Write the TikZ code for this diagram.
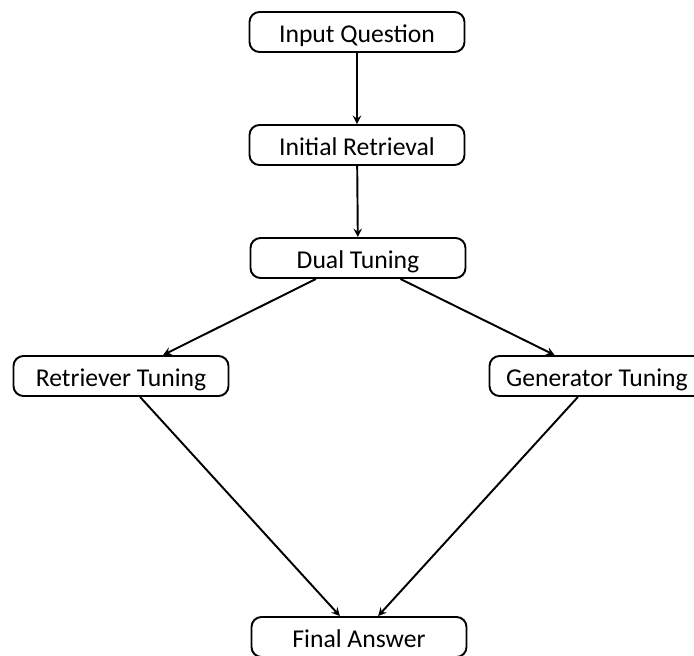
\documentclass[tikz,border=0pt]{standalone}
\usepackage{fontspec}
\setmainfont{Carlito}

\begin{document}
\begin{tikzpicture}
    \tikzset{
        stepbox/.style={
            draw, rounded corners=0.2cm, line width=1.1pt,
            minimum width=4.3cm, minimum height=0.8cm, inner sep=0pt,
            text height=1.2em, text depth=0pt,
            font=\fontsize{14.6}{16}\selectfont,
        },
        myarrow/.style={-stealth, line width=1.1pt},
    }
    \useasboundingbox (0,0) rectangle (13.88,-13.1);

    % Steps
    \node[stepbox] (input) at (7.14,-0.64) {Input Question};
    \node[stepbox] (initial) at (7.14,-2.90) {Initial Retrieval};
    \node[stepbox] (dual) at (7.16,-5.16) {Dual Tuning};
    \node[stepbox] (retriever) at (2.42,-7.52) {Retriever Tuning};
    \node[stepbox] (generator) at (11.94,-7.52) {Generator Tuning};
    \node[stepbox] (final) at (7.18,-12.74) {Final Answer};

    % Arrows
    \draw[myarrow] (input) -- (initial);
    \draw[myarrow] (initial) -- (dual);
    \draw[myarrow] (dual) -- (retriever);
    \draw[myarrow] (dual) -- (generator);
    \draw[myarrow] (retriever) -- (final);
    \draw[myarrow] (generator) -- (final);

\end{tikzpicture}
\end{document}
